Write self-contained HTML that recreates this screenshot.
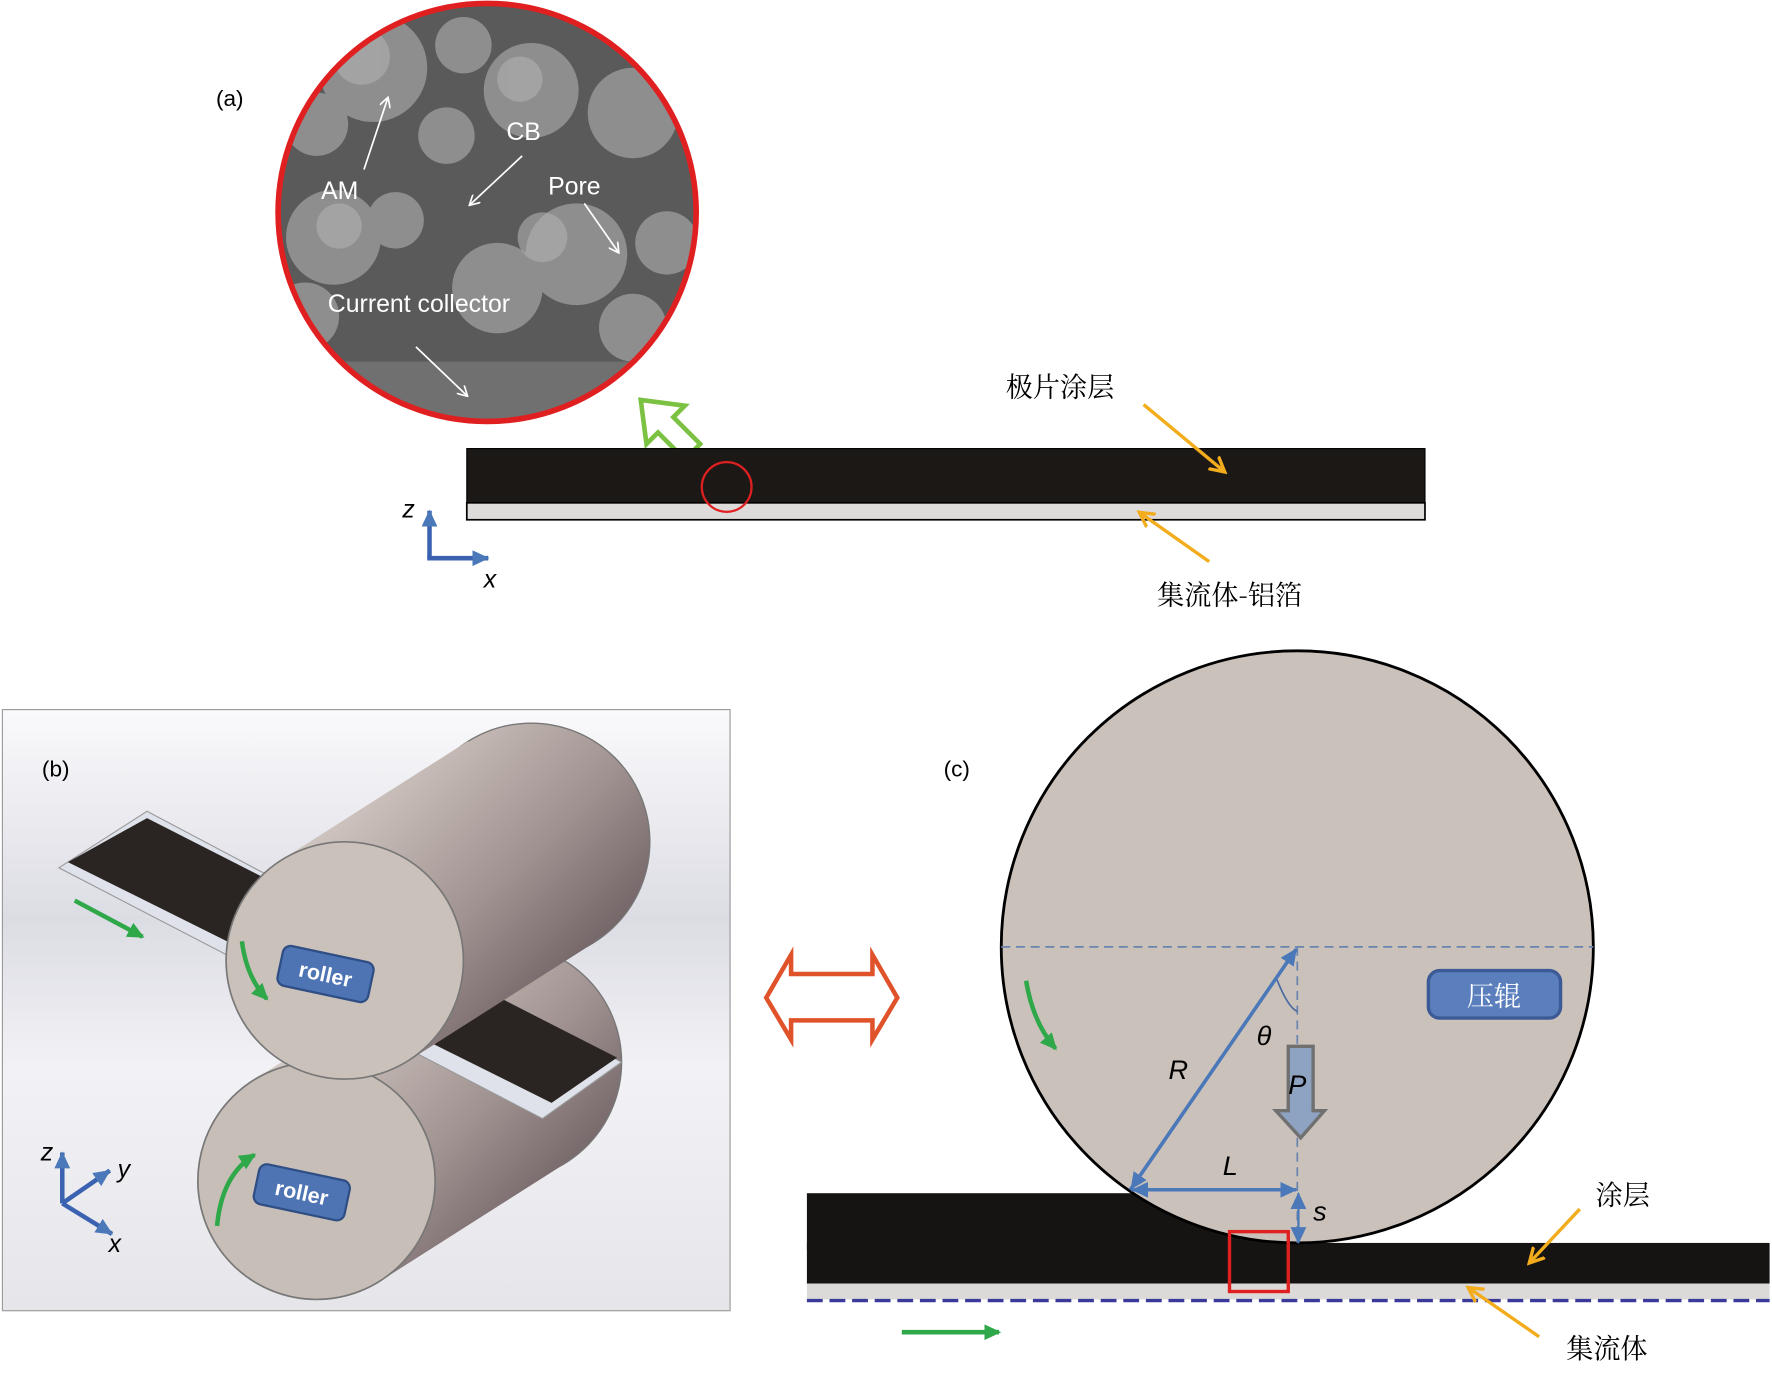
<!DOCTYPE html>
<html><head><meta charset="utf-8"><style>
html,body{margin:0;padding:0;background:#fff;width:1772px;height:1374px;overflow:hidden}
svg{display:block}
text{font-family:"Liberation Sans","Noto Sans CJK SC",sans-serif}
.cj{font-family:"Noto Serif CJK SC","Noto Sans CJK SC",serif}
</style></head><body>
<svg width="1772" height="1374" viewBox="0 0 1568 1216" xmlns="http://www.w3.org/2000/svg">
<defs>
<linearGradient id="bg" x1="0" y1="0" x2="0" y2="1"><stop offset="0" stop-color="#fafafc"/><stop offset="0.35" stop-color="#dcdce4"/><stop offset="0.6" stop-color="#f2f2f6"/><stop offset="1" stop-color="#e6e6ea"/></linearGradient>
<linearGradient id="b1" gradientUnits="userSpaceOnUse" x1="300" y1="660" x2="540" y2="900"><stop offset="0" stop-color="#dcd3cd"/><stop offset="0.55" stop-color="#a09290"/><stop offset="1" stop-color="#5e4f54"/></linearGradient>
<linearGradient id="b2" gradientUnits="userSpaceOnUse" x1="280" y1="870" x2="520" y2="1100"><stop offset="0" stop-color="#dcd3cd"/><stop offset="0.55" stop-color="#a09290"/><stop offset="1" stop-color="#5e4f54"/></linearGradient>
<marker id="wa" markerWidth="10" markerHeight="10" refX="8" refY="5" orient="auto" markerUnits="userSpaceOnUse"><path d="M0,0 L9,5 L0,10" fill="none" stroke="#fff" stroke-width="1.5"/></marker>
<marker id="oa" markerWidth="16" markerHeight="16" refX="12" refY="8" orient="auto" markerUnits="userSpaceOnUse"><path d="M0,1 L13,8 L0,15" fill="none" stroke="#f2ac1c" stroke-width="3"/></marker>
<marker id="ba" markerWidth="16" markerHeight="14" refX="14" refY="7" orient="auto" markerUnits="userSpaceOnUse"><path d="M0,0 L15,7 L0,14 Z" fill="#4a78b8"/></marker>
<marker id="ga" markerWidth="16" markerHeight="14" refX="13" refY="7" orient="auto" markerUnits="userSpaceOnUse"><path d="M0,0 L15,7 L0,14 Z" fill="#2fa84a"/></marker>
<clipPath id="semc"><circle cx="431" cy="188" r="185"/></clipPath>
</defs>

<text x="191" y="94" font-size="20">(a)</text>
<circle cx="431" cy="188" r="185" fill="#5a5a5a"/>
<g clip-path="url(#semc)">
<g fill="#8e8e8e">
<circle cx="330" cy="60" r="48"/><circle cx="470" cy="80" r="42"/><circle cx="560" cy="100" r="40"/><circle cx="295" cy="210" r="42"/><circle cx="510" cy="225" r="45"/><circle cx="280" cy="110" r="28"/><circle cx="590" cy="215" r="28"/><circle cx="395" cy="120" r="25"/><circle cx="440" cy="255" r="40"/><circle cx="350" cy="195" r="25"/><circle cx="560" cy="290" r="30"/><circle cx="270" cy="280" r="30"/><circle cx="410" cy="40" r="25"/></g>
<g fill="#b0b0b0" opacity="0.6"><circle cx="320" cy="50" r="25"/><circle cx="480" cy="210" r="22"/><circle cx="460" cy="70" r="20"/><circle cx="300" cy="200" r="20"/></g>
<rect x="240" y="320" width="400" height="80" fill="#707070"/>
</g>
<circle cx="431" cy="188" r="185" fill="none" stroke="#e02020" stroke-width="5"/>
<g fill="#fff" font-size="22">
<text x="284" y="176">AM</text><text x="448" y="124">CB</text><text x="485" y="172">Pore</text><text x="290" y="276">Current collector</text></g>
<g stroke="#fff" stroke-width="1.5" marker-end="url(#wa)">
<line x1="322" y1="150" x2="343" y2="87"/><line x1="462" y1="138" x2="416" y2="181"/><line x1="517" y1="180" x2="547" y2="223"/><line x1="368" y1="307" x2="413" y2="350"/></g>
<g transform="translate(589,376) rotate(-45) scale(1.2)"><path d="M-8,28 L-8,0 L-20,0 L0,-26 L20,0 L8,0 L8,28 Z" fill="#fff" stroke="#7cc242" stroke-width="3.4"/></g>
<rect x="413" y="397" width="848" height="48" fill="#1b1816" stroke="#000"/>
<rect x="413" y="445" width="848" height="15" fill="#dedcda" stroke="#000" stroke-width="1.5"/>
<circle cx="643" cy="431" r="22" fill="none" stroke="#e02020" stroke-width="2"/>
<text x="890" y="351" font-size="24" class="cj">极片涂层</text>
<line x1="1012" y1="358" x2="1083" y2="417" stroke="#f2ac1c" stroke-width="3" marker-end="url(#oa)"/>
<text x="1024" y="535" font-size="24" class="cj">集流体-铝箔</text>
<line x1="1070" y1="497" x2="1009" y2="454" stroke="#f2ac1c" stroke-width="3" marker-end="url(#oa)"/>
<g stroke="#3a62b0" stroke-width="4" fill="none"><line x1="380" y1="494" x2="380" y2="452" marker-end="url(#ba)"/><line x1="378" y1="494" x2="432" y2="494" marker-end="url(#ba)"/></g>
<text x="356" y="458" font-size="22" font-style="italic">z</text><text x="428" y="520" font-size="22" font-style="italic">x</text>

<rect x="2" y="628" width="644" height="532" fill="url(#bg)" stroke="#999"/>
<text x="37" y="687" font-size="20">(b)</text>
<polygon points="224,956 389,851 501,1029 336,1134" fill="url(#b2)"/>
<circle cx="445" cy="940" r="105" fill="url(#b2)" stroke="#777" stroke-width="1.2"/>
<polygon points="224,956 389,851 501,1029 336,1134" fill="url(#b2)"/>
<circle cx="280" cy="1045" r="105" fill="#c8beb8" stroke="#777" stroke-width="1.5"/>
<polygon points="52,768 130,718 550,940 480,990" fill="#dfe2ea" stroke="#999"/>
<polygon points="60,763 130,724 546,936 488,976" fill="#2a2522"/>
<polygon points="249,761 414,656 526,834 361,939" fill="url(#b1)"/>
<circle cx="470" cy="745" r="105" fill="url(#b1)" stroke="#777" stroke-width="1.2"/>
<polygon points="249,761 414,656 526,834 361,939" fill="url(#b1)"/>
<circle cx="305" cy="850" r="105" fill="#cbc1bb" stroke="#777" stroke-width="1.5"/>
<g transform="rotate(12 288 862)"><rect x="247" y="844" width="82" height="36" rx="7" fill="#4e74b4" stroke="#2e4e84" stroke-width="2"/><text x="288" y="869" font-size="19" fill="#fff" text-anchor="middle" font-family="Liberation Serif" font-weight="bold">roller</text></g>
<g transform="rotate(12 266 1055)"><rect x="226" y="1037" width="82" height="36" rx="7" fill="#4e74b4" stroke="#2e4e84" stroke-width="2"/><text x="267" y="1062" font-size="19" fill="#fff" text-anchor="middle" font-family="Liberation Serif" font-weight="bold">roller</text></g>
<g stroke="#2fa84a" stroke-width="4" fill="none">
<line x1="66" y1="797" x2="126" y2="829" marker-end="url(#ga)"/>
<path d="M214,833 Q218,865 236,884" marker-end="url(#ga)"/>
<path d="M192,1085 Q196,1040 225,1022" marker-end="url(#ga)"/></g>
<g stroke="#3a62b0" stroke-width="4" fill="none"><line x1="55" y1="1065" x2="55" y2="1020" marker-end="url(#ba)"/><line x1="55" y1="1065" x2="97" y2="1036" marker-end="url(#ba)"/><line x1="55" y1="1065" x2="99" y2="1092" marker-end="url(#ba)"/></g>
<g font-size="22" font-style="italic"><text x="36" y="1027">z</text><text x="104" y="1042">y</text><text x="96" y="1108">x</text></g>

<path d="M678,883 L700,845 L700,862 L772,862 L772,845 L794,883 L772,920 L772,903 L700,903 L700,920 Z" fill="#fff" stroke="#e0522a" stroke-width="4"/>

<text x="835" y="687" font-size="20">(c)</text>
<rect x="714" y="1056" width="434" height="50" fill="#161412"/>
<rect x="714" y="1100" width="852" height="36" fill="#161412"/>
<circle cx="1148" cy="838" r="262" fill="#cac1bb" stroke="#000" stroke-width="2.5"/>
<rect x="714" y="1136" width="852" height="14" fill="#dcdad8"/>
<line x1="714" y1="1151" x2="1566" y2="1151" stroke="#3a3a9a" stroke-width="3" stroke-dasharray="14,6"/>
<rect x="1088" y="1090" width="52" height="53" fill="none" stroke="#e02020" stroke-width="3"/>
<g stroke="#6a84b0" stroke-width="1.5" stroke-dasharray="8,5"><line x1="886" y1="838" x2="1410" y2="838"/><line x1="1148" y1="838" x2="1148" y2="1100"/></g>
<path d="M1130,867 Q1140,892 1148,895" fill="none" stroke="#4a6aa0" stroke-width="1.5"/>
<g stroke="#4a78b8" stroke-width="3"><line x1="1000" y1="1053" x2="1147" y2="840" marker-end="url(#ba)"/><line x1="1147" y1="840" x2="1001" y2="1052" marker-end="url(#ba)"/><line x1="1001" y1="1053" x2="1147" y2="1053" marker-end="url(#ba)"/><line x1="1147" y1="1053" x2="1002" y2="1053" marker-end="url(#ba)"/><line x1="1149" y1="1078" x2="1149" y2="1056" marker-end="url(#ba)" stroke-width="2"/><line x1="1149" y1="1078" x2="1149" y2="1100" marker-end="url(#ba)" stroke-width="2"/></g>
<path d="M1140,926 L1162,926 L1162,983 L1172,983 L1151,1007 L1129,983 L1140,983 Z" fill="#8ea2c2" stroke="#707070" stroke-width="3"/>
<g font-size="24" font-style="italic"><text x="1034" y="955">R</text><text x="1112" y="925">θ</text><text x="1140" y="968">P</text><text x="1082" y="1040">L</text><text x="1162" y="1080">s</text></g>
<rect x="1264" y="859" width="117" height="42" rx="10" fill="#5a7fbc" stroke="#3c5a96" stroke-width="3"/>
<text x="1322" y="890" font-size="24" fill="#fff" text-anchor="middle" class="cj">压辊</text>
<path d="M908,868 Q914,905 934,928" fill="none" stroke="#2fa84a" stroke-width="4" marker-end="url(#ga)"/>
<line x1="798" y1="1179" x2="884" y2="1179" stroke="#2fa84a" stroke-width="4" marker-end="url(#ga)"/>
<text x="1412" y="1066" font-size="24" class="cj">涂层</text>
<line x1="1398" y1="1070" x2="1354" y2="1117" stroke="#f2ac1c" stroke-width="3" marker-end="url(#oa)"/>
<text x="1386" y="1202" font-size="24" class="cj">集流体</text>
<line x1="1362" y1="1183" x2="1300" y2="1140" stroke="#f2ac1c" stroke-width="3" marker-end="url(#oa)"/>
</svg>
</body></html>
